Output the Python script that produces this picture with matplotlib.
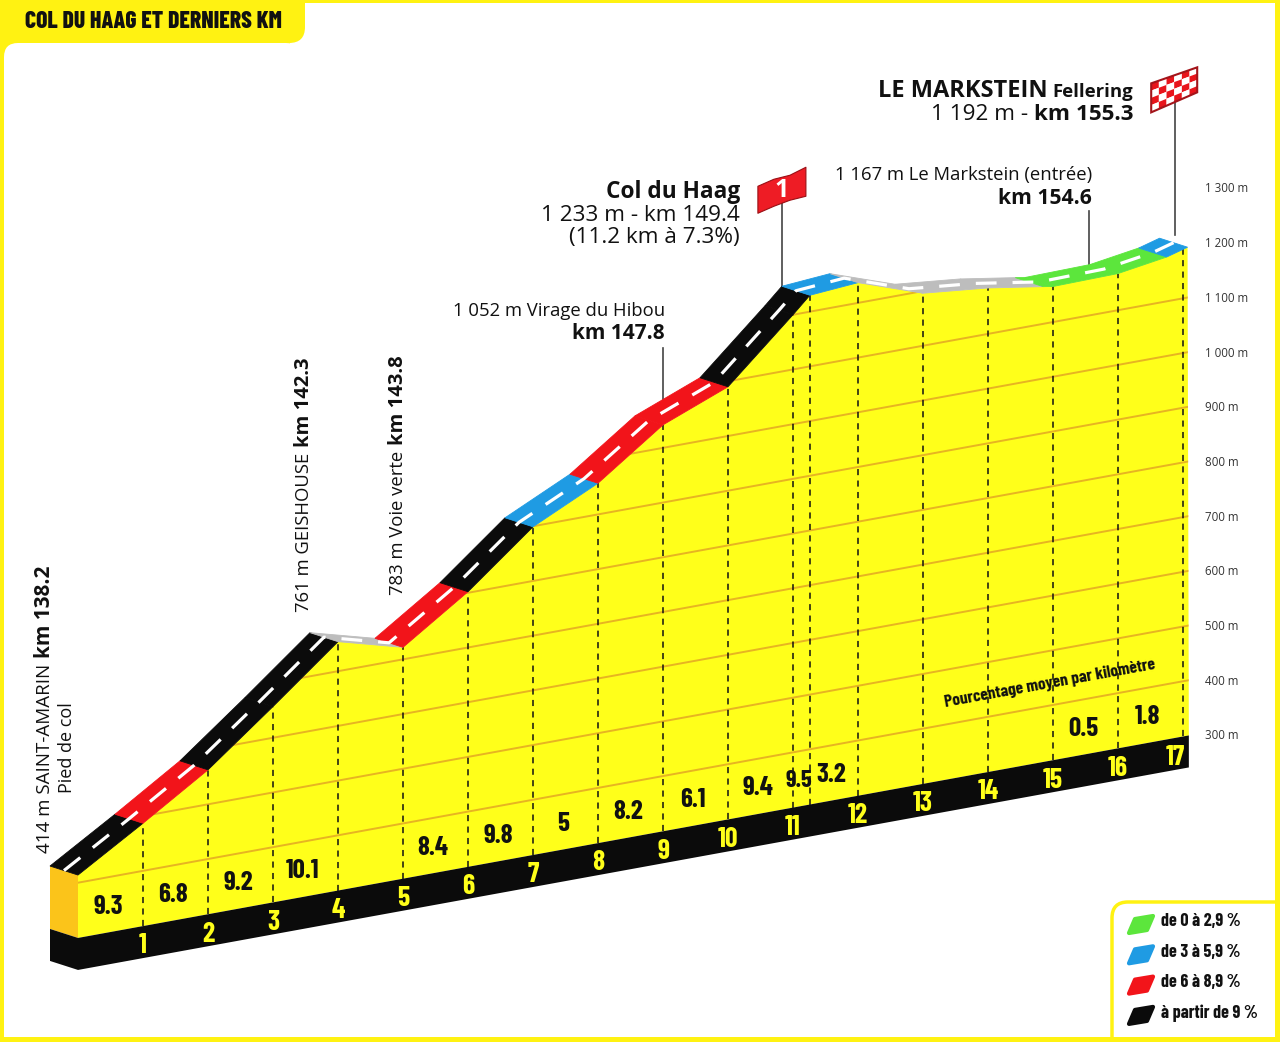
import numpy as np
import matplotlib
matplotlib.use('Agg')
import matplotlib.pyplot as plt
from matplotlib.patches import Polygon, Rectangle, FancyBboxPatch
from matplotlib.transforms import Affine2D, IdentityTransform, offset_copy

# profile: km from the foot of the climb, altitude in m
prof_km = [0, 1, 2, 3, 4, 5, 6, 7, 8, 9, 10, 11, 11.26, 12, 13, 14, 14.85, 15, 16, 16.75, 17.07]
prof_alt = [414, 487, 563, 657, 754, 722, 802, 899, 957, 1042, 1090, 1200, 1230, 1237, 1196, 1184,
            1168, 1165, 1167, 1181, 1192]
seg_class = ['black', 'red', 'black', 'black', 'gray', 'red', 'black', 'blue', 'red', 'red',
             'black', 'black', 'blue', 'gray', 'gray', 'gray', 'green', 'green', 'green', 'blue']

# average gradient per km
grade_from = [0, 1, 2, 3, 5, 6, 7, 8, 9, 10, 11, 11.26, 15, 16]
grade_to = [1, 2, 3, 4, 6, 7, 8, 9, 10, 11, 11.26, 12, 16, 17]
grade_txt = ['9.3', '6.8', '9.2', '10.1', '8.4', '9.8', '5', '8.2', '6.1', '9.4', '9.5', '3.2',
             '0.5', '1.8']

km_marks = list(range(1, 18))
summit_km = 11.26
alt_ticks = list(range(300, 1400, 100))
grid_alts = list(range(400, 1300, 100))

legend_keys = ['green', 'blue', 'red', 'black']
legend_txt = ['de 0 à 2,9 %', 'de 3 à 5,9 %', 'de 6 à 8,9 %', 'à partir de 9 %']

COL = {'black': '#0b0b0b', 'red': '#f2141a', 'blue': '#1f9be3', 'green': '#5ce63c',
       'gray': '#bdbdbd'}
YEL = '#ffff1a'
FRAME = '#fff212'
SIDE = '#fbc41a'
GRID = '#e7b422'
INK = '#111111'
SANS = ['Open Sans', 'DejaVu Sans']
COND = ['Barlow Condensed', 'DejaVu Sans']

# drawing geometry (pseudo 3D: skewed baseline, depth offset for the road)
W, H = 1280, 1042
PX_KM = 65.0
X0 = 78.0
PX_M = 0.547
C0 = 1101.5
SKEW = 11.85 / PX_M
DKM = -28 / PX_KM
DALT = 9 / PX_M - SKEW * DKM
BASE = 299
SLAB = 32 / PX_M

fig = plt.figure(figsize=(W / 100, H / 100), dpi=100)
fig.patch.set_facecolor(FRAME)
ax = fig.add_axes([0, 0, 1, 1])
ax.set_xlim(-X0 / PX_KM, (W - X0) / PX_KM)
ax.set_ylim((C0 - H) / PX_M, C0 / PX_M)
ax.axis('off')
T = Affine2D(np.array([[1.0, 0, 0], [SKEW, 1, 0], [0, 0, 1]])) + ax.transData
PIX = Affine2D().scale(1 / W, -1 / H).translate(0, 1) + fig.transFigure
renderer = fig.canvas.get_renderer()


def fit(t, width_px):
    w = t.get_window_extent(renderer).width
    t.set_fontsize(t.get_fontsize() * width_px / w)


# ---- frame ---------------------------------------------------------------
def pbox(x0, y0, x1, y1, color, z, r=0, **kw):
    if r:
        p = FancyBboxPatch((x0, y0), x1 - x0, y1 - y0,
                           boxstyle=f'round,pad=0,rounding_size={r}', transform=PIX,
                           fc=color, ec=kw.pop('ec', 'none'), zorder=z, clip_on=False, **kw)
    else:
        p = Rectangle((x0, y0), x1 - x0, y1 - y0, transform=PIX, fc=color, ec='none',
                      zorder=z, clip_on=False, **kw)
    ax.add_patch(p)


pbox(290, 3, 1275, 1037, 'white', 0)
pbox(4, 60, 300, 1037, 'white', 0)
pbox(4, 43, 300, 1037, 'white', 0, r=14)
pbox(-40, -40, 305, 43, FRAME, 0.5, r=16)
title = ax.text(25, 22, 'COL DU HAAG ET DERNIERS KM', transform=PIX, ha='left', va='center',
                fontsize=17, fontweight='heavy', family=COND, color=INK, zorder=8)
fit(title, 257)

# ---- profile body --------------------------------------------------------
front = list(zip(prof_km, prof_alt))
end_km = prof_km[-1] + 0.02
face = Polygon(front + [(end_km, BASE), (0, BASE)], closed=True, transform=T,
               fc=YEL, ec='none', zorder=2)
ax.add_patch(face)
ax.add_patch(Polygon([(0, prof_alt[0]), (DKM, prof_alt[0] + DALT), (DKM, BASE + DALT), (0, BASE)],
                     transform=T, fc=SIDE, ec='none', zorder=2))
ax.add_patch(Polygon([(0, BASE), (end_km, BASE), (end_km, BASE - SLAB), (0, BASE - SLAB)],
                     transform=T, fc=COL['black'], ec='none', zorder=2))
ax.add_patch(Polygon([(0, BASE), (DKM, BASE + DALT), (DKM, BASE + DALT - SLAB), (0, BASE - SLAB)],
                     transform=T, fc=COL['black'], ec='none', zorder=2))

for a in grid_alts:
    ln, = ax.plot([0, end_km], [a, a], transform=T, color=GRID, lw=1.4, zorder=2.5)
    ln.set_clip_path(face)

for k in km_marks + [summit_km]:
    top = np.interp(k, prof_km, prof_alt)
    ax.plot([k, k], [BASE, top], transform=T, color=INK, lw=1.1, dashes=(4, 3.5), zorder=3)

# road ribbon
for i, c in enumerate(seg_class):
    k0, a0 = prof_km[i], prof_alt[i]
    k1, a1 = prof_km[i + 1], prof_alt[i + 1]
    quad = [(k0, a0), (k1, a1), (k1 + DKM, a1 + DALT), (k0 + DKM, a0 + DALT)]
    ax.add_patch(Polygon(quad, transform=T, fc=COL[c], ec=COL[c], lw=0.6, zorder=4))
mid_k = np.array(prof_km) + DKM / 2
mid_a = np.array(prof_alt) + DALT / 2
ax.plot(mid_k, mid_a, transform=T, color='white', lw=2.3, dashes=(6.5, 5), zorder=4.5)

# km numbers and gradients
for k in km_marks:
    xk = k - 0.12 if k == km_marks[-1] else k
    ax.text(xk, BASE - SLAB / 2 - 7, str(k), transform=T, ha='center', va='center',
            fontsize=20, fontweight='bold', family=COND, color=YEL, zorder=6)
for g0, g1, s in zip(grade_from, grade_to, grade_txt):
    ax.text((g0 + g1) / 2 - 0.04, BASE + 47, s, transform=T, ha='center', va='center',
            fontsize=19.5 if g1 - g0 > 0.5 else 17.5, fontweight='bold', family=COND,
            color=INK, zorder=6)

pm = ax.text(1050, 683, 'Pourcentage moyen par kilomètre', transform=PIX, ha='center',
             va='center', rotation=10.3, fontsize=12.5, fontweight='bold', family=COND,
             color=INK, zorder=6)

# altitude scale on the right
tick_tr = offset_copy(T, fig=fig, x=22, y=0, units='dots')
for a in alt_ticks:
    lab = f'{a // 1000} {a % 1000:03d} m' if a >= 1000 else f'{a} m'
    ax.text(17, a, lab, transform=tick_tr, ha='left', va='center', fontsize=8.3,
            family=SANS, color='#333333', zorder=6)


# ---- pointers, flags and place names -------------------------------------
def back_alt(k):
    return np.interp(k - DKM, prof_km, prof_alt) + DALT


def pole(k, length_px, lw=1.2):
    b = back_alt(k)
    ax.plot([k, k], [b, b + length_px / PX_M], transform=T, color='#444444', lw=lw, zorder=3.5)
    return T.transform((k, b + length_px / PX_M))


pole(9.0, 51)
pole(15.55, 54)
col_top = pole(summit_km + DKM, 83)
fin_top = pole(prof_km[-1] - 0.19, 134)


def disp(p0, pts):
    return [(p0[0] + dx, p0[1] - dy) for dx, dy in pts]


col_flag = [(-24, -17), (-8, -24), (8, -28), (24, -36), (24, -7), (8, -3), (-8, 3), (-24, 10)]
ax.add_patch(Polygon(disp(col_top, col_flag), transform=IdentityTransform(), fc='#ee1c25',
                     ec='#9a0f14', lw=0.8, zorder=7, joinstyle='round'))
ax.text(col_top[0], col_top[1] + 13, '1', transform=IdentityTransform(), ha='center',
        va='center', fontsize=18, fontweight='bold', family=SANS, color='white', zorder=8)

LT, RT, RB, LB = [np.array(p, float) for p in [(-24, -18), (22, -34), (22, -9), (-24, 11)]]


def bil(u, v):
    return LT * (1 - u) * (1 - v) + RT * u * (1 - v) + LB * (1 - u) * v + RB * u * v


ncol, nrow = 6, 4
for i in range(ncol):
    for j in range(nrow):
        cell = [bil(i / ncol, j / nrow), bil((i + 1) / ncol, j / nrow),
                bil((i + 1) / ncol, (j + 1) / nrow), bil(i / ncol, (j + 1) / nrow)]
        ax.add_patch(Polygon(disp(fin_top, cell), transform=IdentityTransform(),
                             fc='#e8141b' if (i + j) % 2 == 0 else 'white', ec='none', zorder=7))
ax.add_patch(Polygon(disp(fin_top, [LT, RT, RB, LB]), transform=IdentityTransform(), fc='none',
                     ec='#a3141a', lw=1.5, zorder=7.5))


def line_right(x, y, parts, gap=5):
    for s, size, weight in reversed(parts):
        t = ax.text(x, y, s, transform=PIX, ha='right', va='baseline', fontsize=size,
                    fontweight=weight, family=SANS, color=INK, zorder=8)
        x -= t.get_window_extent(renderer).width + gap


def line_up(x, y, parts, gap=6):
    for s, size, weight in parts:
        t = ax.text(x, y, s, transform=PIX, ha='left', va='baseline', rotation=90,
                    rotation_mode='anchor', fontsize=size, fontweight=weight, family=SANS,
                    color=INK, zorder=8)
        y -= t.get_window_extent(renderer).height + gap


line_up(50, 853, [('414 m SAINT-AMARIN', 13.5, 'normal'), ('km 138.2', 15, 'bold')])
line_up(72, 793, [('Pied de col', 13, 'normal')])
line_up(309, 612, [('761 m GEISHOUSE', 13.3, 'normal'), ('km 142.3', 14.5, 'bold')])
line_up(403, 595, [('783 m Voie verte', 13.3, 'normal'), ('km 143.8', 14.5, 'bold')])

line_right(665, 316, [('1 052 m Virage du Hibou', 13.3, 'normal')])
line_right(665, 339, [('km 147.8', 15, 'bold')])
line_right(740, 198, [('Col du Haag', 16.3, 'bold')])
line_right(740, 221, [('1 233 m - km 149.4', 16.2, 'normal')])
line_right(740, 243, [('(11.2 km à 7.3%)', 16.2, 'normal')])
line_right(1092, 180, [('1 167 m Le Markstein (entrée)', 13.3, 'normal')])
line_right(1092, 204, [('km 154.6', 15.2, 'bold')])
line_right(1133, 97, [('LE MARKSTEIN', 17, 'bold'), ('Fellering', 13.3, 'bold')])
line_right(1133, 120, [('1 192 m -', 16.2, 'normal'), ('km 155.3', 16.2, 'bold')])

# ---- legend --------------------------------------------------------------
pbox(1112, 902, 1320, 1080, 'white', 1, r=16, ec=FRAME, lw=2.5)
pbox(1275, 0, 1280, 1042, FRAME, 1.2)
pbox(0, 1037, 1280, 1042, FRAME, 1.2)
leaf = [(-12, 8), (-6, -6), (12, -9), (6, 5)]
for n, (key, s) in enumerate(zip(legend_keys, legend_txt)):
    cy = 922 + n * 30.3
    pts = [(1141 + dx, cy + 3 + dy) for dx, dy in leaf]
    ax.add_patch(Polygon(pts, transform=PIX, fc=COL[key], ec=COL[key], lw=3, joinstyle='round',
                         zorder=6, clip_on=False))
    ax.text(1161, cy, s, transform=PIX, ha='left', va='center', fontsize=13,
            fontweight='bold', family=COND, color=INK, zorder=6)

fig.savefig('out.png', dpi=100, facecolor=FRAME)
